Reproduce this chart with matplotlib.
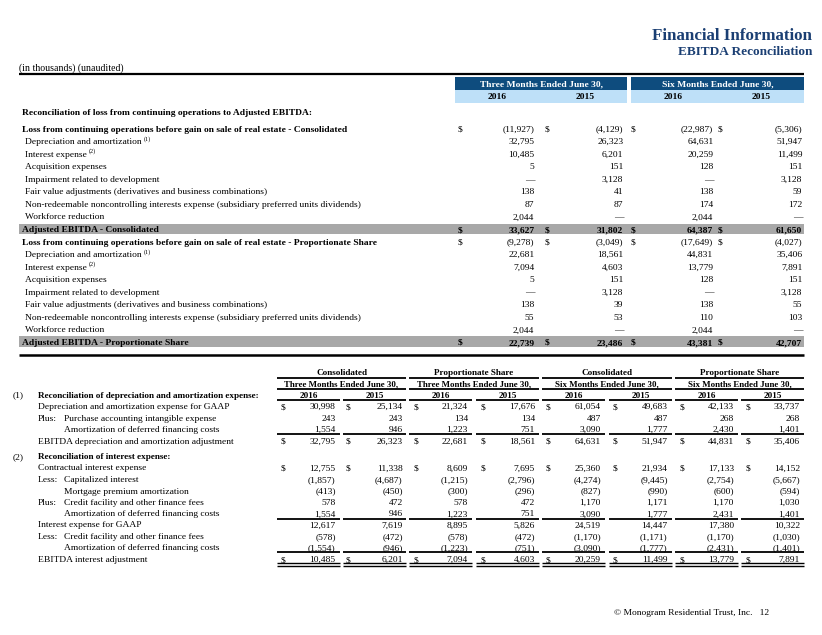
import matplotlib
matplotlib.use("Agg")
import matplotlib.pyplot as plt

plt.rcParams['font.family'] = ['Liberation Serif', 'DejaVu Serif']

# ---- data: top table (Three Months 2016, 2015, Six Months 2016, 2015) ----
top_periods = ["Three Months Ended June 30,", "Six Months Ended June 30,"]
top_years = ["2016", "2015", "2016", "2015"]

cons_labels = ["Loss from continuing operations before gain on sale of real estate - Consolidated",
               "Depreciation and amortization", "Interest expense", "Acquisition expenses",
               "Impairment related to development",
               "Fair value adjustments (derivatives and business combinations)",
               "Non-redeemable noncontrolling interests expense (subsidiary preferred units dividends)",
               "Workforce reduction", "Adjusted EBITDA - Consolidated"]
prop_labels = ["Loss from continuing operations before gain on sale of real estate - Proportionate Share",
               "Depreciation and amortization", "Interest expense", "Acquisition expenses",
               "Impairment related to development",
               "Fair value adjustments (derivatives and business combinations)",
               "Non-redeemable noncontrolling interests expense (subsidiary preferred units dividends)",
               "Workforce reduction", "Adjusted EBITDA - Proportionate Share"]
footnotes = [None, "(1)", "(2)", None, None, None, None, None, None]

cons_values = [[-11927, -4129, -22987, -5306],
               [32795, 26323, 64631, 51947],
               [10485, 6201, 20259, 11499],
               [5, 151, 128, 151],
               [None, 3128, None, 3128],
               [138, 41, 138, 59],
               [87, 87, 174, 172],
               [2044, None, 2044, None],
               [33627, 31802, 64387, 61650]]
prop_values = [[-9278, -3049, -17649, -4027],
               [22681, 18561, 44831, 35406],
               [7094, 4603, 13779, 7891],
               [5, 151, 128, 151],
               [None, 3128, None, 3128],
               [138, 39, 138, 55],
               [55, 53, 110, 103],
               [2044, None, 2044, None],
               [22739, 23486, 43381, 42707]]

# ---- data: bottom table (8 columns) ----
bot_groups = ["Consolidated", "Proportionate Share", "Consolidated", "Proportionate Share"]
bot_periods = ["Three Months Ended June 30,", "Three Months Ended June 30,",
               "Six Months Ended June 30,", "Six Months Ended June 30,"]
bot_years = ["2016", "2015"] * 4

dep_prefix = ["", "Plus:", "", ""]
dep_labels = ["Depreciation and amortization expense for GAAP",
              "Purchase accounting intangible expense",
              "Amortization of deferred financing costs",
              "EBITDA depreciation and amortization adjustment"]
dep_values = [[30998, 25134, 21324, 17676, 61054, 49683, 42133, 33737],
              [243, 243, 134, 134, 487, 487, 268, 268],
              [1554, 946, 1223, 751, 3090, 1777, 2430, 1401],
              [32795, 26323, 22681, 18561, 64631, 51947, 44831, 35406]]

int_prefix = ["", "Less:", "", "Plus:", "", "", "Less:", "", ""]
int_labels = ["Contractual interest expense", "Capitalized interest",
              "Mortgage premium amortization", "Credit facility and other finance fees",
              "Amortization of deferred financing costs", "Interest expense for GAAP",
              "Credit facility and other finance fees",
              "Amortization of deferred financing costs", "EBITDA interest adjustment"]
int_values = [[12755, 11338, 8609, 7695, 25360, 21934, 17133, 14152],
              [-1857, -4687, -1215, -2796, -4274, -9445, -2754, -5667],
              [-413, -450, -300, -296, -827, -990, -600, -594],
              [578, 472, 578, 472, 1170, 1171, 1170, 1030],
              [1554, 946, 1223, 751, 3090, 1777, 2431, 1401],
              [12617, 7619, 8895, 5826, 24519, 14447, 17380, 10322],
              [-578, -472, -578, -472, -1170, -1171, -1170, -1030],
              [-1554, -946, -1223, -751, -3090, -1777, -2431, -1401],
              [10485, 6201, 7094, 4603, 20259, 11499, 13779, 7891]]

NAVY = "#0E4C7E"
TITLE = "#1B3F73"
LIGHT = "#BEE0F8"
BAND = "#A8A8A8"
FS = 6.8


def fmt(v):
    if v is None:
        return "\u2014"
    if v < 0:
        return "({:,})".format(-v)
    return "{:,}".format(v)


fig = plt.figure(figsize=(8.22, 6.35), dpi=100)
ax = fig.add_axes([0, 0, 1, 1])
ax.set_xlim(0, 822)
ax.set_ylim(635, 0)
ax.axis("off")
renderer = fig.canvas.get_renderer()


def hline(x0, x1, y, lw=1.0, color="black"):
    ax.plot([x0, x1], [y, y], color=color, lw=lw, solid_capstyle="butt")


def txt(x, y, s, **kw):
    # y is the visual middle of the capitals; place the baseline below it
    kw.setdefault("fontsize", FS)
    return ax.text(x, y + 0.46 * kw["fontsize"], s, va="baseline", **kw)


def label_with_note(x, y, text, note, bold=False):
    t = txt(x, y, text, fontweight="bold" if bold else "normal")
    if note:
        bb = t.get_window_extent(renderer).transformed(ax.transData.inverted())
        txt(bb.x1 + 2, y - 2.5, note, fontsize=FS * 0.65)


# titles
txt(812, 34, "Financial Information", fontsize=12.2, fontweight="bold", color=TITLE,
    ha="right")
txt(812, 51, "EBITDA Reconciliation", fontsize=9.5, fontweight="bold", color=TITLE,
    ha="right")
txt(19, 67, "(in thousands) (unaudited)", fontsize=FS + 0.3)
hline(19, 804, 73.8, lw=1.6)

# top header boxes
box_x = [(455, 627), (631, 804)]
for (x0, x1), per in zip(box_x, top_periods):
    ax.fill_between([x0, x1], 77.3, 90, color=NAVY, lw=0)
    ax.fill_between([x0, x1], 90, 102.7, color=LIGHT, lw=0)
    txt((x0 + x1) / 2, 83.7, per, fontweight="bold", color="white", ha="center")
year_x = [497, 585, 673, 761]
for x, yr in zip(year_x, top_years):
    txt(x, 96.3, yr, fontweight="bold", ha="center")

txt(22, 112, "Reconciliation of loss from continuing operations to Adjusted EBITDA:",
    fontweight="bold")

dollar_x = [457.7, 544.3, 630.7, 717.7]
value_x = [534.3, 623.3, 713.3, 802.3]
y0, step = 128.5, 12.55
rows = list(zip(cons_labels, cons_values)) + list(zip(prop_labels, prop_values))
for i, (lab, vals) in enumerate(rows):
    y = y0 + step * i
    k = i % 9
    band = k == 8
    bold = k in (0, 8)
    if band:
        ax.fill_between([19, 804], y - 5.4, y + 5.4, color=BAND, lw=0)
    label_with_note(22 if bold else 25, y, lab, footnotes[k], bold=bold)
    w = "bold" if band else "normal"
    for j, v in enumerate(vals):
        if k in (0, 8):
            txt(dollar_x[j], y, "$", fontweight=w)
        txt(value_x[j], y, fmt(v), fontweight=w, ha="right")
hline(19, 804, 355, lw=1.8)

# bottom table
col_start = [277, 343, 409, 476, 542, 609, 675, 741]
col_w = 63
b_dollar = [280.7, 346, 414, 480.7, 546, 612.7, 680, 746]
b_value = [335.7, 402.7, 468, 535, 601, 667.7, 734, 800]

for g in range(4):
    x0 = col_start[2 * g]
    x1 = col_start[2 * g + 1] + col_w
    txt((x0 + x1) / 2, 372.3, bot_groups[g], fontsize=FS - 0.2, fontweight="bold", ha="center")
    hline(x0, x1, 377.5, lw=1.3)
    txt((x0 + x1) / 2, 383.3, bot_periods[g], fontsize=FS - 0.4, fontweight="bold", ha="center")
    hline(x0, x1, 389, lw=1.3)
for c in range(8):
    txt(col_start[c] + col_w / 2, 394.5, bot_years[c], fontsize=FS - 0.2, fontweight="bold",
        ha="center")
    hline(col_start[c], col_start[c] + col_w, 400, lw=1.3)

txt(13, 394.5, "(1)")
txt(38, 394.5, "Reconciliation of depreciation and amortization expense:", fontsize=FS - 0.2,
    fontweight="bold")
txt(13, 456, "(2)")
txt(38, 456, "Reconciliation of interest expense:", fontsize=FS - 0.2, fontweight="bold")

dep_y = [406, 417.7, 429, 440.5]
for y, pre, lab, vals, i in zip(dep_y, dep_prefix, dep_labels, dep_values, range(4)):
    if pre:
        txt(38, y, pre)
    txt(64 if i in (1, 2) else 38, y, lab)
    for c, v in enumerate(vals):
        if i in (0, 3):
            txt(b_dollar[c], y, "$")
        txt(b_value[c], y, fmt(v), ha="right")

int_y = [467.3, 479, 490.4, 501.8, 513.3, 524.3, 535.8, 547.3, 559]
for y, pre, lab, vals, i in zip(int_y, int_prefix, int_labels, int_values, range(9)):
    if pre:
        txt(38, y, pre)
    txt(64 if i in (1, 2, 3, 4, 6, 7) else 38, y, lab)
    for c, v in enumerate(vals):
        if i in (0, 8):
            txt(b_dollar[c], y, "$")
        txt(b_value[c], y, fmt(v), ha="right")

for c in range(8):
    x0, x1 = col_start[c], col_start[c] + col_w
    hline(x0, x1, 434, lw=1.3)
    hline(x0, x1, 518.5, lw=1.3)
    hline(x0, x1, 552, lw=1.3)
    hline(x0, x1, 563, lw=1.0)
    hline(x0, x1, 565.8, lw=1.0)

txt(769, 612, "\u00a9 Monogram Residential Trust, Inc.   12", ha="right")

fig.savefig("out.png", dpi=100)
